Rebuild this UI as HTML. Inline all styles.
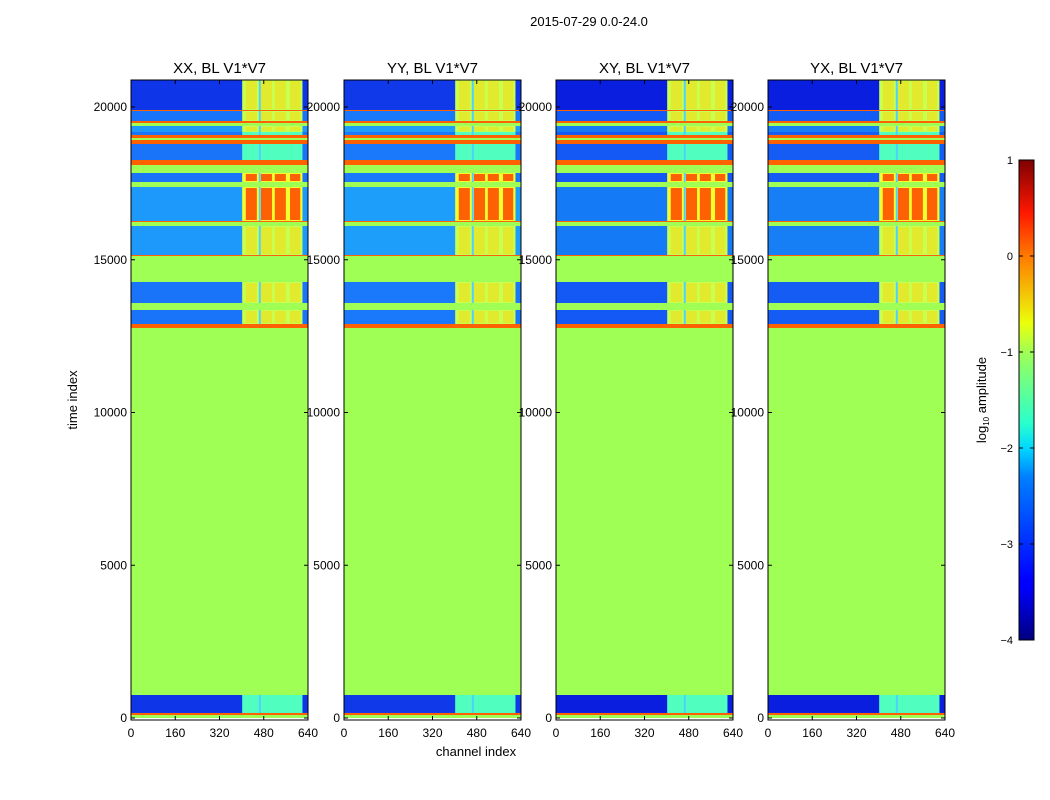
<!DOCTYPE html>
<html><head><meta charset="utf-8"><style>
body{margin:0;background:#fff}
svg{display:block;font-family:"Liberation Sans","DejaVu Sans",sans-serif}
</style></head><body>
<svg id="fig" width="1050" height="800" xmlns="http://www.w3.org/2000/svg">
<defs>
<linearGradient id="jet" x1="0" y1="1" x2="0" y2="0">
<stop offset="0" stop-color="#00007f"/><stop offset="0.11" stop-color="#0000ff"/>
<stop offset="0.125" stop-color="#0000ff"/><stop offset="0.34" stop-color="#0080ff"/>
<stop offset="0.4" stop-color="#00d8ff"/><stop offset="0.45" stop-color="#28ffce"/>
<stop offset="0.6" stop-color="#a0ff55"/><stop offset="0.66" stop-color="#ebff0b"/>
<stop offset="0.8" stop-color="#ff7a00"/><stop offset="0.89" stop-color="#ff1800"/>
<stop offset="1" stop-color="#7f0000"/>
</linearGradient>
</defs>
<text x="589" y="26" font-size="13" text-anchor="middle">2015-07-29 0.0-24.0</text>
<text x="77" y="400" font-size="13" text-anchor="middle" transform="rotate(-90 77 400)">time index</text>
<text x="476" y="756" font-size="13" text-anchor="middle">channel index</text>
<g id="panels"></g>
<g id="cbar"></g>
</svg>
<script>
// ---- data ----
const panelTitles = ["XX, BL V1*V7","YY, BL V1*V7","XY, BL V1*V7","YX, BL V1*V7"];
const panelDark = [0.35, 0.3, 0.7, 0.65];
const bandStart = [19902,19869,19542,19476,19378,19182,19084,18985,18920,18789,18265,18232,18101,17840,17545,17381,16268,16236,16105,15155,15123,14272,13584,13355,12897,12766,753,196,164,98,0];
const bandEnd   = [20884,19902,19869,19542,19476,19378,19182,19084,18985,18920,18789,18265,18232,18101,17840,17545,17381,16268,16236,16105,15155,15123,14272,13584,13355,12897,12766,753,196,164,98];
const bandKind  = ["dark","o","mid","o","g","light","mid","o","g","o","mid","o","o","g","mid","g","light","o","g","light","o","g","mid","g","mid","o","g","dark","dark","o","g"];
const bandSignal= ["warm","-","warm","-","-","warm","cool","-","-","-","cool","-","-","-","hot","-","hot","-","-","warm","-","-","warm","-","warm","-","-","cool","cool","-","-"];
const blockStart = [415,470,520,575];
const blockEnd   = [455,510,560,612];
const signalRange = [402, 620];
const gapChannel = 462;
const yTicks = [0,5000,10000,15000,20000];
const xTicks = [0,160,320,480,640];
const cbTicks = [1,0,-1,-2,-3,-4];

// ---- layout ----
const panelX = [131,344,556,768], pw = 177, plotTop = 80, plotBottom = 720;
const yS = t => 718 - t*611/20000;
const NS = "http://www.w3.org/2000/svg";
const G = {g:"#a0ff55", o:"#ff6000"};
function el(tag, attrs, parent){const e=document.createElementNS(NS,tag);for(const k in attrs)e.setAttribute(k,attrs[k]);parent.appendChild(e);return e;}
const root = document.getElementById('panels');
function mix(a,b,f){const pa=[1,3,5].map(i=>parseInt(a.substr(i,2),16)),pb=[1,3,5].map(i=>parseInt(b.substr(i,2),16));return "rgb("+pa.map((v,i)=>Math.round(v+(pb[i]-v)*f)).join(",")+")";}

panelX.forEach((px,p)=>{
  const xS = c => px + c*pw/640;
  const g = el('g',{},root);
  
  
  const hm = el('g',{},g);
  
  
  const d = panelDark[p];
  bandStart.forEach((s,i)=>{
    const y0=yS(bandEnd[i]), y1=yS(s), k=bandKind[i];
    let fill;
    if(k==="g"||k==="o") fill=G[k];
    else if(k==="dark") fill=mix("#1e78ff","#0a1ee0",Math.min(1,d+0.4));
    else if(k==="mid") fill=mix("#1e90ff","#1040f0",d);
    else fill=mix("#22b8ff","#1060f0",d);
    const r=el('rect',{x:px,y:y0,width:pw,height:Math.max(0.8,y1-y0),fill:fill},hm);
    
    
    const sig=bandSignal[i];
    if(sig!=="-"){
      const sc = sig==="cool"?"#50ffc0":(sig==="warm"?"#c8ff50":"#f0ff30");
      const sr=el('rect',{x:xS(signalRange[0]),y:y0,width:xS(signalRange[1])-xS(signalRange[0]),height:y1-y0,fill:sc},hm);
      
      
      if(sig!=="cool"){
        blockStart.forEach((b,j)=>{
          const bc = sig==="hot"?"#ff5000":"#ffd000";
          const br=el('rect',{x:xS(b),y:y0+1,width:xS(blockEnd[j])-xS(b),height:Math.max(0.5,y1-y0-2),fill:bc,opacity:sig==="hot"?0.9:0.45},hm);
          
          
        });
      }
      const gl=el('rect',{x:xS(gapChannel),y:y0,width:2,height:y1-y0,fill:"#50d0ff"},hm);
      
      
    }
  });
  const fr=el('rect',{x:px,y:plotTop,width:pw,height:plotBottom-plotTop,fill:"none",stroke:"#000","stroke-width":1},g);
  
  
  const t=el('text',{x:px+pw/2,y:73,"font-size":15,"text-anchor":"middle"},g);
  t.textContent=panelTitles[p];
  
  
  yTicks.forEach(v=>{
    const y=yS(v);
    el('line',{x1:px,x2:px+4,y1:y,y2:y,stroke:"#000"},g);
    el('line',{x1:px+pw-4,x2:px+pw,y1:y,y2:y,stroke:"#000"},g);
    const tl=el('text',{x:px-4,y:y+4,"font-size":12,"text-anchor":"end"},g);
    tl.textContent=v;
    
    
  });
  xTicks.forEach(v=>{
    const x=xS(v);
    el('line',{x1:x,x2:x,y1:plotBottom,y2:plotBottom-4,stroke:"#000"},g);
    el('line',{x1:x,x2:x,y1:plotTop,y2:plotTop+4,stroke:"#000"},g);
    const tl=el('text',{x:x,y:737,"font-size":12,"text-anchor":"middle"},g);
    tl.textContent=v;
    
    
  });
});

// colorbar
const cb=document.getElementById('cbar');
const cy = v => 640 - (v+4)*96;
el('rect',{x:1019,y:160,width:15,height:480,fill:"url(#jet)",stroke:"#000","stroke-width":1},cb);
cbTicks.forEach(v=>{
  const y=cy(v);
  el('line',{x1:1019,x2:1023,y1:y,y2:y,stroke:"#000"},cb);
  el('line',{x1:1030,x2:1034,y1:y,y2:y,stroke:"#000"},cb);
  const tl=el('text',{x:1013,y:y+4,"font-size":11,"text-anchor":"end"},cb);
  tl.textContent=(v<0?"\u2212"+(-v):v);
  
  
});
const lab=el('text',{x:986,y:400,"font-size":13,"text-anchor":"middle",transform:"rotate(-90 986 400)"},cb);
lab.innerHTML='log<tspan font-size="8" dy="3">10</tspan><tspan dy="-3"> amplitude</tspan>';


</script>
</body></html>
